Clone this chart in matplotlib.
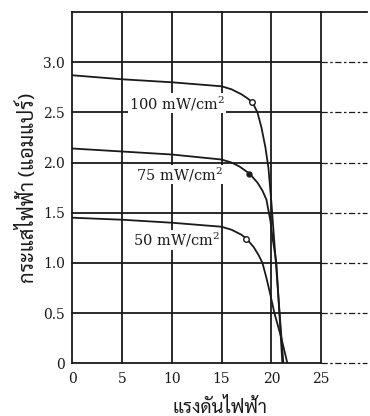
import matplotlib
matplotlib.use("Agg")
import matplotlib.pyplot as plt
from matplotlib import font_manager

# แรงดัน (V) และกระแส (A) ที่อ่านได้จากกราฟ
volt_100 = [0, 5, 10, 15, 16, 17, 17.6, 18.1, 18.6, 19.0, 19.4, 19.7, 20.0, 20.3, 20.6, 20.9, 21.2]
amp_100 = [2.87, 2.83, 2.80, 2.76, 2.73, 2.68, 2.64, 2.60, 2.50, 2.35, 2.15, 1.95, 1.60, 1.20, 0.80, 0.40, 0.0]

volt_75 = [0, 5, 10, 15, 16, 16.8, 17.8, 18.6, 19.1, 19.5, 19.9, 20.1, 20.5, 20.8, 21.1]
amp_75 = [2.14, 2.11, 2.08, 2.03, 2.00, 1.96, 1.89, 1.80, 1.72, 1.63, 1.42, 1.26, 1.00, 0.50, 0.0]

volt_50 = [0, 5, 10, 15, 16, 17, 17.5, 18.2, 18.7, 19.1, 19.5, 19.9, 20.3, 21.0, 21.6]
amp_50 = [1.45, 1.43, 1.40, 1.36, 1.33, 1.28, 1.24, 1.16, 1.08, 1.00, 0.85, 0.68, 0.50, 0.25, 0.0]

# จุดกำลังสูงสุด
mpp_volt = [18.1, 17.8, 17.5]
mpp_amp = [2.60, 1.89, 1.24]

labels = ["100 mW/cm$^2$", "75 mW/cm$^2$", "50 mW/cm$^2$"]
label_pos = [(10.5, 2.59), (10.8, 1.88), (10.5, 1.23)]

x_ticks = [0, 5, 10, 15, 20, 25]
y_ticks = [0, 0.5, 1.0, 1.5, 2.0, 2.5, 3.0]
y_tick_labels = ["0", "0.5", "1.0", "1.5", "2.0", "2.5", "3.0"]


def thai_font(size):
    want = ["Sarabun-Regular.ttf", "Taviraj-Regular.ttf", "Trirong-Regular.ttf",
            "Pridi-Regular.ttf", "Niramit-Regular.ttf"]
    files = font_manager.findSystemFonts()
    for w in want:
        for f in files:
            if f.endswith("/" + w):
                return font_manager.FontProperties(fname=f, size=size)
    return font_manager.FontProperties(size=size)


ink = "#1a1a1a"
plt.rcParams["font.family"] = ["DejaVu Serif"]
plt.rcParams["mathtext.fontset"] = "dejavuserif"

fig = plt.figure(figsize=(3.7, 4.16), dpi=100)
ax = fig.add_axes([0.195, 0.127, 0.797, 0.844])
ax.set_xlim(0, 29.6)
ax.set_ylim(0, 3.5)
for s in ax.spines.values():
    s.set_visible(False)

# เส้นกริด
for x in x_ticks:
    ax.plot([x, x], [0, 3.5], color=ink, lw=1.3, clip_on=False)
for y in y_ticks + [3.5]:
    ax.plot([0, 25], [y, y], color=ink, lw=1.3, clip_on=False)
    if y == 3.5:
        ax.plot([25, 29.6], [y, y], color=ink, lw=1.3, clip_on=False)
    else:
        ax.plot([25, 29.6], [y, y], color=ink, lw=0.9, ls=(0, (5, 2, 2, 2)), clip_on=False)

for v, a in [(volt_100, amp_100), (volt_75, amp_75), (volt_50, amp_50)]:
    ax.plot(v, a, color=ink, lw=1.3, zorder=3)

ax.plot(mpp_volt[0], mpp_amp[0], "o", ms=4, mfc="white", mec=ink, mew=1, zorder=4)
ax.plot(mpp_volt[1], mpp_amp[1], "o", ms=3.5, mfc=ink, mec=ink, zorder=4)
ax.plot(mpp_volt[2], mpp_amp[2], "o", ms=4, mfc="white", mec=ink, mew=1, zorder=4)

for t, (x, y) in zip(labels, label_pos):
    ax.text(x, y, t, ha="center", va="center", fontsize=10.5, color=ink, zorder=5,
            bbox=dict(facecolor="white", edgecolor="none", pad=0.5))

ax.set_xticks(x_ticks)
ax.set_yticks(y_ticks)
ax.set_yticklabels(y_tick_labels)
ax.tick_params(length=0, labelsize=10, colors=ink)
ax.tick_params(axis="x", pad=6)
ax.tick_params(axis="y", pad=5)

ax.set_xlabel("แรงดันไฟฟ้า", fontproperties=thai_font(13.5), color=ink, labelpad=9)
ax.set_ylabel("กระแสไฟฟ้า (แอมแปร์)", fontproperties=thai_font(14.5), color=ink, labelpad=4)

fig.savefig("out.png")
